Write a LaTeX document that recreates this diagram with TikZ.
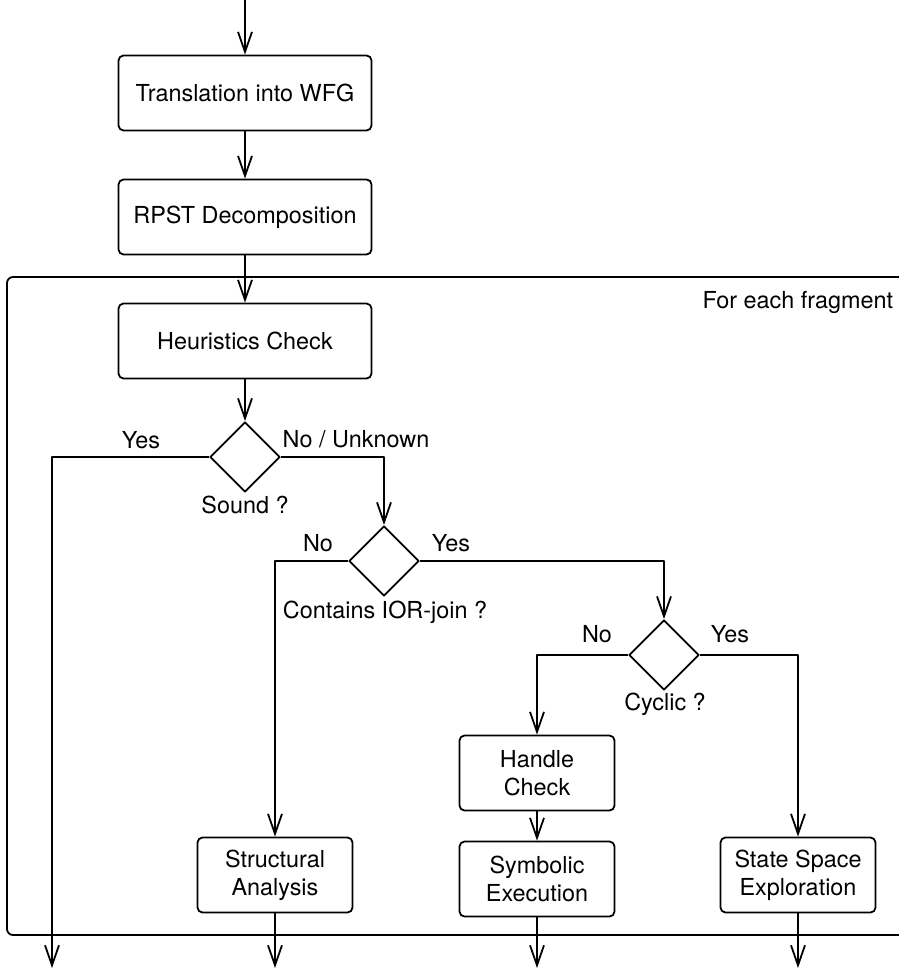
\documentclass[tikz,border=0pt]{standalone}
\usepackage{fontspec}
\setmainfont{TeX Gyre Heros}
\usetikzlibrary{arrows.meta,shapes.geometric}

\begin{document}
\begin{tikzpicture}[x=0.5pt,y=-0.5pt,>={Straight Barb[length=10pt,width=7pt]},
  line width=0.9pt,line join=round,font=\fontsize{11.7}{14}\selectfont,
  stage/.style={draw,rounded corners=2.5pt,minimum width=126.5pt,
    minimum height=37.5pt,inner sep=0pt,align=center},
  check/.style={draw,rounded corners=2.5pt,minimum width=77.5pt,
    minimum height=37.5pt,inner sep=0pt,align=center},
  choice/.style={draw,diamond,minimum size=35pt,inner sep=0pt},
  lbl/.style={inner sep=0pt}]

\useasboundingbox (0,0) rectangle (899,974);

%% ---------------- fragment loop, open to the right ----------------
\draw[rounded corners=3pt] (920,277) -- (7,277) -- (7,935) -- (920,935);
\node[lbl,anchor=east] (loop) at (894,302) {For each fragment};

%% ---------------- preprocessing chain ----------------
\coordinate (in) at (245,0);
\node[stage] (wfg)  at (245,93)  {Translation into WFG};
\node[stage] (rpst) at (245,217) {RPST Decomposition};
\node[stage] (heur) at (245,341) {Heuristics Check};
\draw[->] (in) -- (wfg);
\draw[->] (wfg) -- (rpst);
\draw[->] (rpst) -- (heur);

%% ---------------- decisions ----------------
\node[choice] (sound)  at (245,457) {};
\node[choice] (ior)    at (384,561) {};
\node[choice] (cyclic) at (664,655) {};
\node[lbl] (soundq)  at (245,505) {Sound ?};
\node[lbl,anchor=west] (iorq) at (282,612) {Contains IOR-join ?};
\node[lbl] (cyclicq) at (665,704) {Cyclic ?};
%% branch labels
\node[lbl] (soundyes) at (141,440) {Yes};
\node[lbl] (soundno)  at (356,439) {No / Unknown};
\node[lbl] (iorno)    at (318,543) {No};
\node[lbl] (ioryes)   at (451,543) {Yes};
\node[lbl] (cycno)    at (597,634) {No};
\node[lbl] (cycyes)   at (730,634) {Yes};

%% ---------------- analyses ----------------
\node[check] (handle)     at (537,773) {Handle\\Check};
\node[check] (structural) at (275,875) {Structural\\Analysis};
\node[check] (symbolic)   at (537,879) {Symbolic\\Execution};
\node[check] (statespace) at (798,875) {State Space\\Exploration};

%% outputs below the loop
\coordinate (out1) at (52,968);
\coordinate (out2) at (275,968);
\coordinate (out3) at (537,968);
\coordinate (out4) at (798,968);

\draw[->] (heur) -- (sound);
\draw[->] (sound.west) -| (out1);
\draw[->] (sound.east) -| (ior.north);
\draw[->] (ior.west) -| (structural.north);
\draw[->] (ior.east) -| (cyclic.north);
\draw[->] (cyclic.west) -| (handle.north);
\draw[->] (cyclic.east) -| (statespace.north);
\draw[->] (handle) -- (symbolic);
\draw[->] (structural) -- (out2);
\draw[->] (symbolic) -- (out3);
\draw[->] (statespace) -- (out4);

\end{tikzpicture}
\end{document}
